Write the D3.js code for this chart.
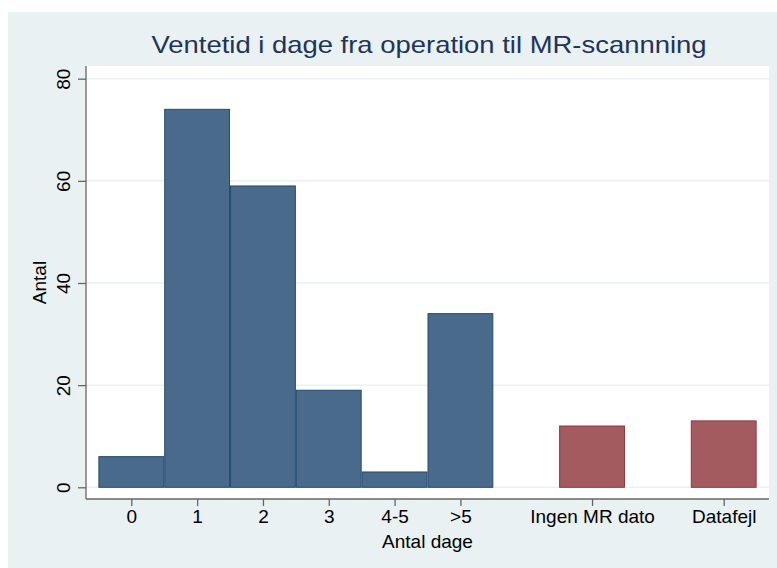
<!DOCTYPE html>
<html>
<head>
<meta charset="utf-8">
<script src="https://cdn.jsdelivr.net/npm/d3@7"></script>
<style>
  body { margin: 0; background: #fff; }
  text { font-family: "Liberation Sans", Arial, sans-serif; }
</style>
</head>
<body>
<svg id="chart" width="777" height="568"></svg>
<script>
// data
const categories = ['0', '1', '2', '3', '4-5', '>5', 'Ingen MR dato', 'Datafejl']
const xValues = [0, 1, 2, 3, 4, 5, 7, 9]
const counts = [6, 74, 59, 19, 3, 34, 12, 13]
const groups = ['dage', 'dage', 'dage', 'dage', 'dage', 'dage', 'mangler', 'mangler']
const yTicks = [0, 20, 40, 60, 80]

const svg = d3.select('#chart')

// plot region
const plot = { left: 86, right: 769, top: 66, bottom: 499 }

const x = d3.scaleLinear().domain([0, 9]).range([131.3, 723.7])
const y = d3.scaleLinear().domain([0, 80]).range([487.3, 78.7])

const fill = d3.scaleOrdinal().domain(['dage', 'mangler']).range(['#4a6a8b', '#a45b60'])
const edge = d3.scaleOrdinal().domain(['dage', 'mangler']).range(['#214b70', '#8f353c'])

// graph background
svg.append('rect')
  .attr('x', 8).attr('y', 12)
  .attr('width', 769).attr('height', 556)
  .attr('fill', '#eaf1f3')

svg.append('rect')
  .attr('x', plot.left).attr('y', plot.top)
  .attr('width', plot.right - plot.left).attr('height', plot.bottom - plot.top)
  .attr('fill', '#fff')

// grid lines
svg.append('g')
  .selectAll('line')
  .data(yTicks)
  .join('line')
  .attr('x1', plot.left).attr('x2', plot.right)
  .attr('y1', (d) => y(d)).attr('y2', (d) => y(d))
  .attr('stroke', '#eaf1f3')
  .attr('stroke-width', 1.5)

// bars
const bars = categories.map((c, i) => ({ cat: c, x: xValues[i], n: counts[i], g: groups[i] }))

svg.append('g')
  .selectAll('rect')
  .data(bars)
  .join('rect')
  .attr('x', (d) => x(d.x - 0.5) + 0.5)
  .attr('width', (d) => x(d.x + 0.5) - x(d.x - 0.5) - 1)
  .attr('y', (d) => y(d.n))
  .attr('height', (d) => y(0) - y(d.n))
  .attr('fill', (d) => fill(d.g))
  .attr('stroke', (d) => edge(d.g))
  .attr('stroke-width', 1)

// y axis
const yAxis = svg.append('g')
  .attr('transform', `translate(${plot.left},0)`)
  .call(d3.axisLeft(y).tickValues(yTicks).tickSize(8).tickPadding(0).tickFormat(d3.format('d')))

yAxis.select('.domain').remove()
yAxis.append('line')
  .attr('x1', 0).attr('x2', 0)
  .attr('y1', plot.top).attr('y2', plot.bottom)
  .attr('stroke', '#666').attr('stroke-width', 1.3)
yAxis.selectAll('.tick line').attr('stroke', '#666').attr('stroke-width', 1.3)
yAxis.selectAll('.tick text')
  .attr('x', null).attr('dy', null)
  .attr('transform', 'translate(-16,0) rotate(-90)')
  .attr('text-anchor', 'middle')
  .attr('font-size', 19)
  .attr('fill', '#000')

// x axis
const xAxis = svg.append('g')
  .attr('transform', `translate(0,${plot.bottom})`)
  .call(d3.axisBottom(x).tickValues(xValues).tickSize(7).tickPadding(4)
    .tickFormat((d) => categories[xValues.indexOf(d)]))

xAxis.select('.domain').remove()
xAxis.append('line')
  .attr('x1', plot.left).attr('x2', plot.right)
  .attr('y1', 0).attr('y2', 0)
  .attr('stroke', '#666').attr('stroke-width', 1.3)
xAxis.selectAll('.tick line').attr('stroke', '#666').attr('stroke-width', 1.3)
xAxis.selectAll('.tick text')
  .attr('font-size', 19)
  .attr('fill', '#000')

// axis titles
svg.append('text')
  .attr('x', (plot.left + plot.right) / 2)
  .attr('y', 548)
  .attr('text-anchor', 'middle')
  .attr('font-size', 19)
  .text('Antal dage')

svg.append('text')
  .attr('transform', `translate(46,${(plot.top + plot.bottom) / 2}) rotate(-90)`)
  .attr('text-anchor', 'middle')
  .attr('font-size', 19)
  .text('Antal')

// title
svg.append('text')
  .attr('x', 429)
  .attr('y', 53)
  .attr('text-anchor', 'middle')
  .attr('font-size', 24)
  .attr('textLength', 555)
  .attr('lengthAdjust', 'spacingAndGlyphs')
  .attr('fill', '#22335a')
  .text('Ventetid i dage fra operation til MR-scannning')
</script>
</body>
</html>
